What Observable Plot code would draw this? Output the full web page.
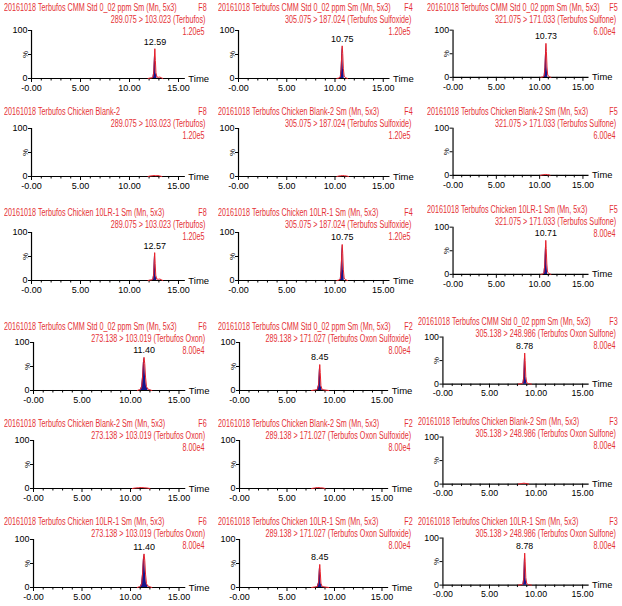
<!DOCTYPE html>
<html><head><meta charset="utf-8">
<script src="https://cdn.jsdelivr.net/npm/d3@7"></script>
<script src="https://cdn.jsdelivr.net/npm/@observablehq/plot@0.6"></script>
<style>
body{margin:0;background:#fff;}
#root{position:relative;width:622px;height:606px;overflow:hidden;font-family:"Liberation Sans",Arial,sans-serif;}
.hd{position:absolute;color:#e53236;font-size:10px;line-height:12px;white-space:nowrap;}
.hd.l{transform:scaleX(0.72);transform-origin:left center;}
.hd.r{transform:scaleX(0.72);transform-origin:right center;}
.panel{position:absolute;}
</style></head><body><div id="root"></div>
<script>
// ---------- data ----------
const sampleTitles = [
  "20161018 Terbufos CMM Std 0_02 ppm Sm (Mn, 5x3)","20161018 Terbufos CMM Std 0_02 ppm Sm (Mn, 5x3)","20161018 Terbufos CMM Std 0_02 ppm Sm (Mn, 5x3)",
  "20161018 Terbufos Chicken Blank-2","20161018 Terbufos Chicken Blank-2 Sm (Mn, 5x3)","20161018 Terbufos Chicken Blank-2 Sm (Mn, 5x3)",
  "20161018 Terbufos Chicken 10LR-1 Sm (Mn, 5x3)","20161018 Terbufos Chicken 10LR-1 Sm (Mn, 5x3)","20161018 Terbufos Chicken 10LR-1 Sm (Mn, 5x3)",
  "20161018 Terbufos CMM Std 0_02 ppm Sm (Mn, 5x3)","20161018 Terbufos CMM Std 0_02 ppm Sm (Mn, 5x3)","20161018 Terbufos CMM Std 0_02 ppm Sm (Mn, 5x3)",
  "20161018 Terbufos Chicken Blank-2 Sm (Mn, 5x3)","20161018 Terbufos Chicken Blank-2 Sm (Mn, 5x3)","20161018 Terbufos Chicken Blank-2 Sm (Mn, 5x3)",
  "20161018 Terbufos Chicken 10LR-1 Sm (Mn, 5x3)","20161018 Terbufos Chicken 10LR-1 Sm (Mn, 5x3)","20161018 Terbufos Chicken 10LR-1 Sm (Mn, 5x3)"
];
const functionLabels = ["F8","F4","F5","F8","F4","F5","F8","F4","F5","F6","F2","F3","F6","F2","F3","F6","F2","F3"];
const transitionsTop = ["289.075 > 103.023 (Terbufos)","305.075 > 187.024 (Terbufos Sulfoxide)","321.075 > 171.033 (Terbufos Sulfone)"];
const transitionsBottom = ["273.138 > 103.019 (Terbufos Oxon)","289.138 > 171.027 (Terbufos Oxon Sulfoxide)","305.138 > 248.986 (Terbufos Oxon Sulfone)"];
const intensityLabels = ["1.20e5","1.20e5","6.00e4","1.20e5","1.20e5","6.00e4","1.20e5","1.20e5","8.00e4",
  "8.00e4","8.00e4","8.00e4","8.00e4","8.00e4","8.00e4","8.00e4","8.00e4","8.00e4"];
const peakLabels = ["12.59","10.75","10.73",null,null,null,"12.57","10.75","10.71",
  "11.40","8.45","8.78",null,null,null,"11.40","8.45","8.78"];
const majorTicks = [0,5,10,15];
const minorTicks = [1,2,3,4,6,7,8,9,11,12,13,14];
const traceTimes = [
  [11.9,12.1,12.3,12.4,12.48,12.54,12.59,12.64,12.7,12.8,12.95,13.1,13.25,13.4],
  [10.2,10.4,10.55,10.63,10.7,10.75,10.8,10.87,10.95,11.1,11.3],
  [10.15,10.35,10.52,10.61,10.68,10.73,10.78,10.85,10.93,11.1,11.3],
  [11.9,12.1,12.3,12.5,12.7,12.9,13.1,13.3],
  [10.2,10.4,10.6,10.8,11.0,11.2,11.4],
  [10.1,10.3,10.5,10.7,10.9,11.1,11.2],
  [11.9,12.1,12.3,12.4,12.47,12.52,12.57,12.62,12.68,12.78,12.95,13.1,13.25,13.4],
  [10.2,10.4,10.55,10.63,10.7,10.75,10.8,10.87,10.95,11.1,11.3],
  [10.15,10.35,10.5,10.59,10.66,10.71,10.76,10.83,10.91,11.1,11.3],
  [10.7,10.9,11.05,11.15,11.25,11.33,11.4,11.47,11.55,11.65,11.8,12.0,12.2],
  [7.6,7.9,8.2,8.33,8.4,8.45,8.5,8.57,8.7,9.0,9.4],
  [8.1,8.4,8.6,8.68,8.74,8.78,8.83,8.9,9.0,9.2,9.5],
  [10.2,10.5,10.8,11.1,11.4,11.7,12.0],
  [7.6,7.9,8.2,8.5,8.8,9.0],
  [8.1,8.4,8.7,9.0,9.2],
  [10.7,10.9,11.05,11.15,11.25,11.33,11.4,11.47,11.55,11.65,11.8,12.0,12.2],
  [7.6,7.9,8.2,8.33,8.4,8.45,8.5,8.57,8.7,9.0,9.4],
  [8.1,8.4,8.6,8.68,8.74,8.78,8.83,8.9,9.0,9.2,9.5]
];
const traceValues = [
  [0,1,1.5,3,14,42,62,38,12,3,2.5,3,1.5,0],
  [0,1,3,18,50,68,52,20,5,1.5,0],
  [0,1,3,20,52,72,55,22,5,1.5,0],
  [0,1,1.5,2,1.5,2,1,0],
  [0,1,1.5,2,1.5,1,0],
  [0,1,1.5,2,1.5,1,0],
  [0,1,1.5,3,13,40,58,36,11,3,2.5,3,1.5,0],
  [0,1,3,20,55,75,57,22,5,1.5,0],
  [0,1,3,20,52,72,55,22,5,1.5,0],
  [0,1.5,3,8,30,58,69,56,28,8,3,1.5,0],
  [0,1,2,12,40,54,38,10,2,1,0],
  [0,1,2.5,15,48,66,50,16,3,1,0],
  [0,1,1.5,2,1.5,1,0],
  [0,1,2,1.5,1,0],
  [0,1,2,1,0],
  [0,1.5,3,8,30,59,70,57,28,8,3,1.5,0],
  [0,1,2,11,36,48,34,9,2,1,0],
  [0,1,2.5,15,50,68,51,16,3,1,0]
];
const fillStart = [12.4,10.55,10.52,null,null,null,12.4,10.55,10.5,11.05,8.2,8.6,null,null,null,11.05,8.2,8.6];
const fillEnd   = [12.8,10.95,10.93,null,null,null,12.78,10.95,10.91,11.8,8.7,9.0,null,null,null,11.8,8.7,9.0];

// ---------- layout ----------
const rowBase = [78, 176, 280, 390, 488, 587];
const rowTitleY = [8, 112, 213, 327, 424, 522];
// per-panel vertical nudges (col 3 sits a little higher in some rows)
const baseNudge  = [0,0,0, 0,0,0, 0,0,-5, 0,0,-5, 0,0,-3, 0,0,-1];
const titleNudge = [0,0,0, 0,0,0, 0,0,-3, 0,0,-5, 0,0,-2, 0,0,0];
const colX0 = [[31,238,453],[33,239,443]];
const colK = [[9.8,9.65,8.8],[9.7,9.5,9.5]];
const colTitleLeft = [[4,218,427],[4,218,418]];
const colRight = [207,413,618];
const AXH = 48, ML = 30, MR = 34, MT = 22, MB = 16, XEND = 15.7;
const lineRed = "#e8202a", navy = "#16168c";
const root = document.getElementById("root");

function addText(txt, top, left, right) {
  const d = document.createElement("div");
  d.className = "hd " + (left != null ? "l" : "r");
  d.textContent = txt;
  d.style.top = (top - 6) + "px";
  if (left != null) d.style.left = left + "px";
  else d.style.right = (622 - right) + "px";
  root.appendChild(d);
}

for (let i = 0; i < 18; i++) {
  const r = Math.floor(i / 3), c = i % 3, half = r < 3 ? 0 : 1;
  const ty = rowTitleY[r] + titleNudge[i];
  addText(sampleTitles[i], ty, colTitleLeft[half][c], null);
  addText(functionLabels[i], ty, null, colRight[c]);
  addText((half ? transitionsBottom : transitionsTop)[c], ty + 12, null, colRight[c] - 2);
  addText(intensityLabels[i], ty + 24, null, colRight[c] - 2);

  const k = colK[half][c], x0 = colX0[half][c];
  const W = ML + XEND * k + MR, H = MT + AXH + MB;
  const trace = traceTimes[i].map((t, j) => ({t, v: traceValues[i][j]}));
  const fill = fillStart[i] == null ? [] : trace.filter(d => d.t >= fillStart[i] && d.t <= fillEnd[i]);
  let apex = trace[0];
  for (const d of trace) if (d.v > apex.v) apex = d;
  const marks = [
    Plot.ruleY([0], {stroke: "#000", strokeWidth: 1.2}),
    Plot.ruleX([0], {stroke: "#000", strokeWidth: 1.2}),
    Plot.axisX({ticks: majorTicks, tickFormat: d => d === 0 ? "-0.00" : d.toFixed(2), tickSize: 4, tickPadding: 2, fontSize: 9, label: null}),
    Plot.axisX({ticks: minorTicks, tickFormat: () => "", tickSize: 2.5, label: null}),
    Plot.axisY({ticks: [0, 100], tickSize: 3, tickPadding: 1, fontSize: 9, label: null}),
    Plot.axisY({ticks: [50], tickSize: 3, tickPadding: 1, tickFormat: () => "%", tickRotate: -90, fontSize: 8, label: null}),
    Plot.text(["Time"], {x: XEND, y: 0, textAnchor: "start", dx: 3, fontSize: 9.5, fill: "#000"}),
    Plot.areaY(fill, {x: "t", y: "v", fill: navy}),
    Plot.line(trace, {x: "t", y: "v", stroke: lineRed, strokeWidth: 1})
  ];
  if (peakLabels[i]) marks.push(Plot.text([apex], {x: "t", y: "v", text: () => peakLabels[i], dy: -7, fontSize: 9, fill: "#000"}));
  const svg = Plot.plot({
    width: W, height: H, marginLeft: ML, marginRight: MR, marginTop: MT, marginBottom: MB,
    x: {domain: [0, XEND]}, y: {domain: [0, 100]},
    style: {fontFamily: "'Liberation Sans', Arial, sans-serif", fontSize: "9px", color: "#000", background: "transparent", overflow: "visible"},
    marks
  });
  const wrap = document.createElement("div");
  wrap.className = "panel";
  wrap.style.left = (x0 - ML) + "px";
  wrap.style.top = (rowBase[r] + baseNudge[i] - AXH - MT) + "px";
  wrap.appendChild(svg);
  root.appendChild(wrap);
}
</script></body></html>
